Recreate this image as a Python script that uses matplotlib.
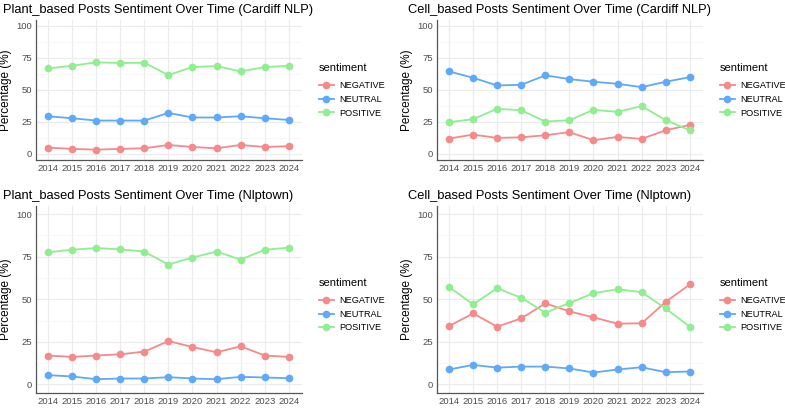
import matplotlib
matplotlib.use("Agg")
import matplotlib.pyplot as plt
from matplotlib.lines import Line2D

plt.rcParams['font.family'] = ['Liberation Sans', 'DejaVu Sans']

years = [2014, 2015, 2016, 2017, 2018, 2019, 2020, 2021, 2022, 2023, 2024]
sentiments = ["NEGATIVE", "NEUTRAL", "POSITIVE"]
colors = {"NEGATIVE": "#F6898A", "NEUTRAL": "#5EA9FA", "POSITIVE": "#8FEE8F"}

# plant based, cardiff nlp
plant_cardiff_neg = [4.7, 3.7, 3.1, 3.7, 4.2, 6.8, 5.2, 4.2, 6.8, 5.2, 5.8]
plant_cardiff_neu = [29.3, 27.7, 25.9, 25.9, 25.9, 31.9, 28.3, 28.3, 29.3, 27.7, 26.4]
plant_cardiff_pos = [66.8, 68.8, 71.5, 71.0, 71.2, 61.5, 67.8, 68.6, 64.4, 67.8, 68.8]

# cell based, cardiff nlp
cell_cardiff_neg = [11.8, 14.9, 12.3, 12.8, 14.4, 16.8, 10.5, 13.1, 11.5, 18.3, 22.5]
cell_cardiff_neu = [64.4, 59.4, 53.4, 53.9, 61.3, 58.4, 56.3, 54.7, 52.1, 56.3, 59.9]
cell_cardiff_pos = [24.6, 27.0, 35.1, 34.0, 25.1, 26.2, 34.3, 32.7, 37.2, 26.2, 18.3]

# plant based, nlptown
plant_nlptown_neg = [17.0, 16.2, 17.0, 17.7, 19.3, 25.5, 22.0, 18.9, 22.4, 17.0, 16.2]
plant_nlptown_neu = [5.5, 4.7, 3.1, 3.5, 3.5, 4.3, 3.5, 3.1, 4.5, 4.1, 3.7]
plant_nlptown_pos = [77.6, 79.1, 80.1, 79.3, 78.0, 70.4, 74.5, 78.0, 73.3, 79.1, 80.3]

# cell based, nlptown
cell_nlptown_neg = [34.3, 41.7, 33.9, 38.8, 47.6, 42.9, 39.4, 35.7, 35.9, 48.5, 58.7]
cell_nlptown_neu = [8.8, 11.5, 9.9, 10.5, 10.5, 9.4, 7.0, 8.8, 10.1, 7.2, 7.6]
cell_nlptown_pos = [57.3, 47.0, 56.5, 50.9, 42.1, 47.8, 53.6, 55.9, 54.2, 44.6, 33.9]

W, H = 785, 408
fig = plt.figure(figsize=(W / 100, H / 100), dpi=100)


#--panel-------------------------------------------------------
def panel(x0, y_top, y_bot, title, title_x, leg_x, leg_y, neg, neu, pos):
	ax = fig.add_axes([x0 / W, 1 - y_bot / H, 266 / W, (y_bot - y_top) / H])
	for s, vals in zip(sentiments, [neg, neu, pos]):
		ax.plot(years, vals, '-o', color=colors[s], lw=1.3, ms=4.5, zorder=3)
	ax.set_xlim(2013.5, 2024.55)
	ax.set_ylim(-5, 105)
	ax.set_xticks(years)
	ax.set_yticks([0, 25, 50, 75, 100])
	ax.set_yticks([12.5, 37.5, 62.5, 87.5], minor=True)
	ax.grid(True, which='major', color='#EBEBEB', lw=0.8)
	ax.grid(True, which='minor', axis='y', color='#F4F4F4', lw=0.5)
	ax.set_axisbelow(True)
	for sp in ['top', 'right']:
		ax.spines[sp].set_visible(False)
	for sp in ['left', 'bottom']:
		ax.spines[sp].set_color('#555555')
		ax.spines[sp].set_linewidth(0.9)
	ax.tick_params(which='both', length=0, labelsize=6.8, labelcolor='#4D4D4D', pad=3)
	ax.set_ylabel("Percentage (%)", fontsize=8.5, labelpad=3)
	fig.text(title_x / W, 1 - (y_top - 7) / H, title, fontsize=9.3, va='baseline')
	handles = [Line2D([], [], color=colors[s], marker='o', lw=1.3, ms=4.5, label=s) for s in sentiments]
	leg = fig.legend(handles=handles, title="sentiment", loc='upper left',
	                 bbox_to_anchor=(leg_x / W, 1 - leg_y / H), frameon=False,
	                 borderpad=0, borderaxespad=0,
	                 fontsize=6.6, title_fontsize=8, handlelength=1.6, handletextpad=0.6,
	                 labelspacing=0.5)
	leg._legend_box.align = "left"
	leg._legend_box.sep = 6
	return ax


panel(36, 19.6, 160, "Plant_based Posts Sentiment Over Time (Cardiff NLP)", 3, 319, 63,
      plant_cardiff_neg, plant_cardiff_neu, plant_cardiff_pos)
panel(437, 19.6, 160, "Cell_based Posts Sentiment Over Time (Cardiff NLP)", 408, 720, 63,
      cell_cardiff_neg, cell_cardiff_neu, cell_cardiff_pos)
panel(36, 205.6, 393, "Plant_based Posts Sentiment Over Time (Nlptown)", 3, 319, 278,
      plant_nlptown_neg, plant_nlptown_neu, plant_nlptown_pos)
panel(437, 205.6, 393, "Cell_based Posts Sentiment Over Time (Nlptown)", 408, 720, 278,
      cell_nlptown_neg, cell_nlptown_neu, cell_nlptown_pos)

fig.savefig("out.png", dpi=100)
